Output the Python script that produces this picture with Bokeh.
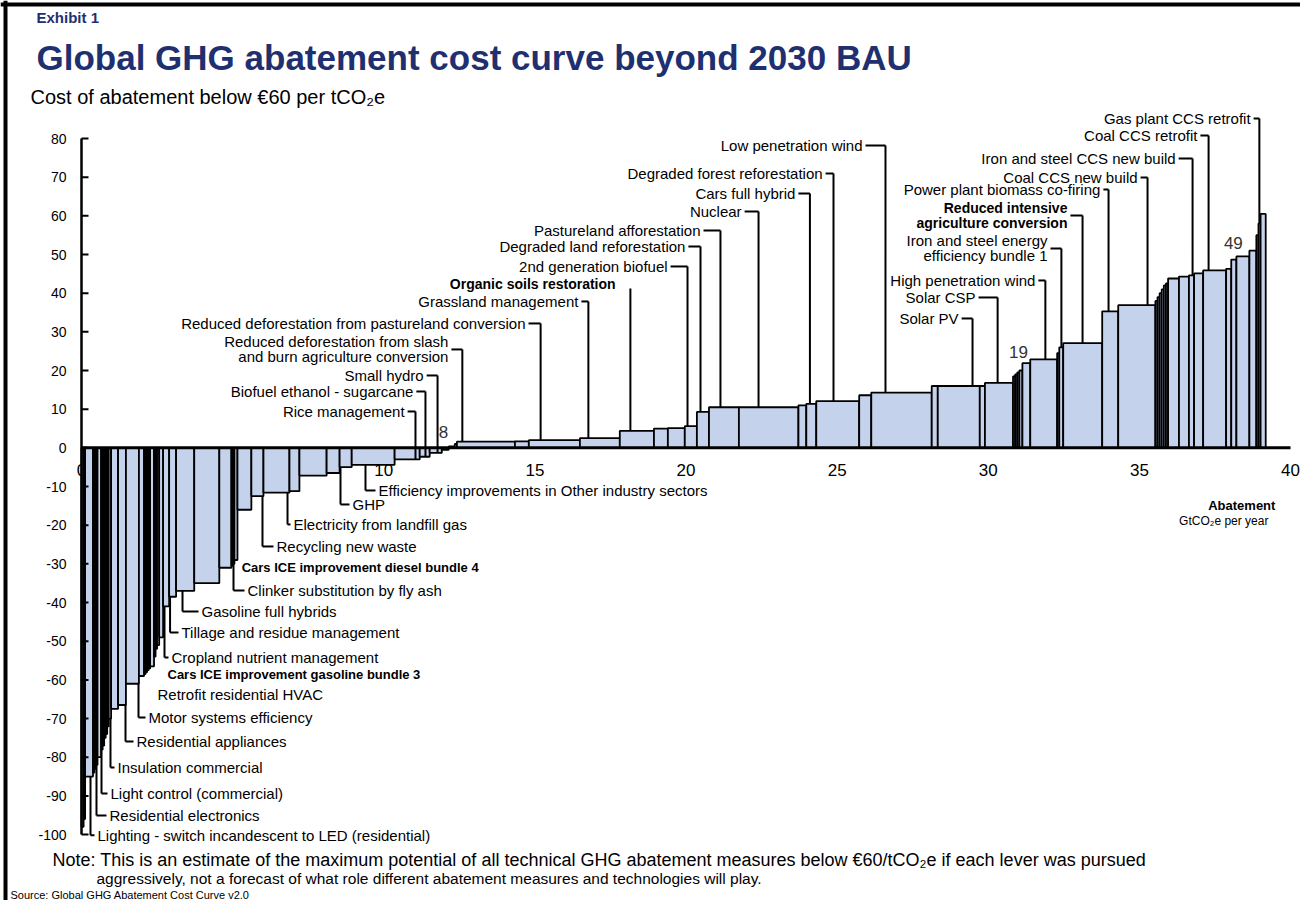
import numpy as np
from bokeh.plotting import figure
from bokeh.models import ColumnDataSource, Range1d, Span
from bokeh.core.properties import value
from bokeh.embed import file_html
from bokeh.resources import INLINE

# ------------------------------------------------------------------ data
# width of each abatement lever (GtCO2e per year) and its cost (EUR per tCO2e), in curve order
lever_width = [0.07, 0.05, 0.26, 0.05, 0.05, 0.05, 0.12, 0.05, 0.05, 0.05,
               0.05, 0.05, 0.08, 0.23, 0.26, 0.43, 0.17, 0.05, 0.05, 0.05,
               0.05, 0.13, 0.05, 0.05, 0.07, 0.13, 0.20, 0.23, 0.60, 0.83,
               0.40, 0.05, 0.05, 0.10, 0.46, 0.40, 0.86, 0.33, 0.90, 0.43,
               0.40, 1.42, 0.83, 0.33, 0.40, 0.23, 0.20, 0.07,
               1.92, 0.46, 1.69, 1.32, 1.13, 0.46, 0.56, 0.40, 0.40, 0.99,
               1.97, 0.26, 0.33, 1.42, 0.40, 2.00, 0.20, 1.39, 0.17, 0.93,
               0.07, 0.07, 0.07, 0.10, 0.26, 0.89, 0.07, 0.13, 1.29, 0.53,
               1.23, 0.07, 0.07, 0.07, 0.07, 0.07, 0.07, 0.36, 0.33, 0.17,
               0.30, 0.76, 0.17, 0.17, 0.43, 0.23, 0.07, 0.07, 0.17]
lever_cost = [-98, -96, -85, -84, -83, -82, -80, -78, -77, -75,
              -74, -72, -70, -67.5, -66.5, -61, -59, -58.5, -58, -57.5,
              -57, -56.5, -54, -52, -51, -49, -41, -38.5, -37, -35,
              -31, -30.5, -30, -29, -16, -12.5, -11.6, -11.2, -7.2, -6.5,
              -5, -4.4, -3, -2.3, -1.3, -0.5, 0.4, 1.0,
              1.6, 1.7, 2.0, 2.5, 4.4, 5.0, 5.1, 5.6, 9.3, 10.5,
              10.5, 11.0, 11.4, 12.1, 13.6, 14.3, 16.0, 16.0, 16.0, 16.8,
              18.5, 19.0, 19.5, 20.0, 21.9, 22.9, 24.5, 26.0, 27.1, 35.3,
              36.9, 38, 39, 40, 41, 42, 42.5, 43.8, 44.3, 44.6,
              45.1, 45.9, 46.3, 48.7, 49.5, 51, 55, 58, 60.5]

cost_ticks = list(range(-100, 90, 10))
abatement_ticks = [0, 5, 10, 15, 20, 25, 30, 35, 40]

# labels above the axis: text, right end of text, text y, abatement where the leader meets the curve
upper_names = ["Rice management", "Biofuel ethanol - sugarcane", "Small hydro",
               "Reduced deforestation from slash\nand burn agriculture conversion",
               "Reduced deforestation from pastureland conversion", "Grassland management",
               "Organic soils restoration", "2nd generation biofuel", "Degraded land reforestation",
               "Pastureland afforestation", "Nuclear", "Cars full hybrid",
               "Degraded forest reforestation", "Low penetration wind", "Solar PV", "Solar CSP",
               "High penetration wind", "Iron and steel energy\nefficiency bundle 1",
               "Reduced intensive\nagriculture conversion", "Power plant biomass co-firing",
               "Coal CCS new build", "Iron and steel CCS new build", "Coal CCS retrofit",
               "Gas plant CCS retrofit"]
upper_text_x = [10.69, 10.98, 11.32, 12.14, 14.69, 16.44, 17.67, 19.39, 19.98, 20.48, 21.84, 23.62,
                24.52, 25.84, 29.02, 29.58, 31.56, 31.96, 32.62, 33.71, 34.94, 36.20, 36.92, 38.68]
upper_text_y = [9.41, 14.58, 18.72, 25.45, 32.17, 37.86, 42.25, 46.91, 52.07, 56.22, 61.13, 65.79,
                70.96, 78.2, 33.46, 38.89, 43.29, 51.56, 60.1, 66.82, 69.92, 74.84, 80.79, 85.18]
upper_lever_x = [11.05, 11.38, 11.78, 12.6, 15.19, 16.77, 18.16, 20.05, 20.48, 21.14, 22.4, 24.1,
                 24.88, 26.6, 29.48, 30.31, 31.89, 32.42, 33.12, 33.98, 35.27, 36.76, 37.29, 38.97]

# labels below the axis: text, left start of text, text y, abatement of the lever (None = no leader)
lower_names = ["Lighting - switch incandescent to LED (residential)", "Residential electronics",
               "Light control (commercial)", "Insulation commercial", "Residential appliances",
               "Motor systems efficiency", "Retrofit residential HVAC",
               "Cars ICE improvement gasoline bundle 3", "Cropland nutrient management",
               "Tillage and residue management", "Gasoline full hybrids",
               "Clinker substitution by fly ash", "Cars ICE improvement diesel bundle 4",
               "Recycling new waste", "Electricity from landfill gas", "GHP",
               "Efficiency improvements in Other industry sectors"]
lower_text_x = [0.529, 0.926, 0.959, 1.191, 1.82, 2.217, 2.514, 2.845, 2.978, 3.309, 3.97,
                5.492, 5.3, 6.452, 7.014, 8.966, 9.826]
lower_text_y = [-100.2, -95.05, -89.36, -82.64, -75.92, -69.72, -63.77, -58.6, -54.2, -47.74,
                -42.31, -36.88, -30.93, -25.5, -19.81, -14.64, -11.02]
lower_lever_x = [0.298, 0.496, 0.662, 0.959, 1.456, 1.886, None, None, 2.746, 2.93, 3.342,
                 5.029, None, 5.988, 6.816, 8.569, 9.396]

count_labels = ["8", "19", "49"]
count_x = [11.98, 31.0, 38.11]
count_y = [3.98, 24.67, 52.86]

# ------------------------------------------------------------------ geometry
w = np.array(lever_width)
c = np.array(lever_cost, dtype=float)
right = np.cumsum(w)
left = right - w
bars = ColumnDataSource(dict(left=left, right=right,
                             top=np.maximum(c, 0), bottom=np.minimum(c, 0)))


def cost_at(x):
    i = int(np.searchsorted(right, x))
    return float(c[min(i, len(c) - 1)])


PXX, PXY = 30.225, 3.867          # pixels per unit
W, H = 1300, 900
x_start = -81 / PXX
x_end = x_start + W / PXX
y_end = 80 + 138 / PXY
y_start = y_end - H / PXY

FONT = "Liberation Sans"
NAVY = "#1f3070"
BAR_FILL = "#c5d2ec"
GAP = 3 / PXX
LH = 15 / PXY

p = figure(width=W, height=H, x_range=Range1d(x_start, x_end), y_range=Range1d(y_start, y_end),
           output_backend="svg", toolbar_location=None, tools="", title=None,
           x_axis_type=None, y_axis_type=None, min_border=0)
p.outline_line_color = None
p.background_fill_color = "white"
p.border_fill_color = "white"


def add_text(xs, ys, texts, size, align="left", bold=False, color="black"):
    src = ColumnDataSource(dict(x=list(xs), y=list(ys), text=list(texts)))
    p.text(x="x", y="y", text="text", source=src, text_font=value(FONT),
           text_font_size=value(f"{size}px"), text_align=align, text_baseline="middle",
           text_font_style="bold" if bold else "normal", text_color=color)


# x tick labels (drawn first, the curve covers some of them as in the original)
add_text(abatement_ticks, [-5.84] * len(abatement_ticks), [str(t) for t in abatement_ticks], 17,
         align="center")

# the cost curve
p.quad(left="left", right="right", top="top", bottom="bottom", source=bars,
       fill_color=BAR_FILL, line_color="black", line_width=1.8)

# axes
p.segment(x0=[0], y0=[cost_ticks[0]], x1=[0], y1=[cost_ticks[-1]], line_color="black", line_width=2.5)
p.segment(x0=[0] * len(cost_ticks), y0=cost_ticks, x1=[7 / PXX] * len(cost_ticks), y1=cost_ticks,
          line_color="black", line_width=2)
p.segment(x0=[abatement_ticks[0]], y0=[0], x1=[abatement_ticks[-1]], y1=[0], line_color="black",
          line_width=3)
add_text([-15 / PXX] * len(cost_ticks), cost_ticks, [str(t) for t in cost_ticks], 14, align="right")

# leaders
sx0, sy0, sx1, sy1 = [], [], [], []
bold_upper = {"Organic soils restoration", "Reduced intensive\nagriculture conversion"}
no_connector = {"Organic soils restoration"}
ux, uy, ut, bx, by, bt = [], [], [], [], [], []
for name, tx, ty, lx in zip(upper_names, upper_text_x, upper_text_y, upper_lever_x):
    lines = name.split("\n")
    n = len(lines)
    for j, line in enumerate(lines):
        yy = ty + ((n - 1) / 2 - j) * LH
        if name in bold_upper:
            bx.append(tx); by.append(yy); bt.append(line)
        else:
            ux.append(tx); uy.append(yy); ut.append(line)
    end = cost_at(lx)
    if name in no_connector:
        sx0.append(lx); sy0.append(ty - 4 / PXY); sx1.append(lx); sy1.append(end)
    else:
        sx0 += [tx + GAP, lx]; sy0 += [ty, ty]; sx1 += [lx, lx]; sy1 += [ty, end]

add_text(ux, uy, ut, 15, align="right")
add_text(bx, by, bt, 14, align="right", bold=True)

bold_lower = {"Cars ICE improvement gasoline bundle 3", "Cars ICE improvement diesel bundle 4"}
lx_n, ly_n, lt_n, lx_b, ly_b, lt_b = [], [], [], [], [], []
for name, tx, ty, lx in zip(lower_names, lower_text_x, lower_text_y, lower_lever_x):
    if name in bold_lower:
        lx_b.append(tx); ly_b.append(ty); lt_b.append(name)
    else:
        lx_n.append(tx); ly_n.append(ty); lt_n.append(name)
    if lx is not None:
        end = cost_at(lx)
        sx0 += [lx, lx]; sy0 += [end, ty]; sx1 += [lx, tx - GAP]; sy1 += [ty, ty]

add_text(lx_n, ly_n, lt_n, 15, align="left")
add_text(lx_b, ly_b, lt_b, 13, align="left", bold=True)
p.segment(x0=sx0, y0=sy0, x1=sx1, y1=sy1, line_color="black", line_width=2)

# lever counts
add_text(count_x, count_y, count_labels, 17, align="center", color="#333333")

# axis title
add_text([39.5], [-14.9], ["Abatement"], 13, align="right", bold=True)
add_text([39.27], [-19.03], ["GtCO₂e per year"], 12, align="right")

# headings
add_text([-1.489], [111.3], ["Exhibit 1"], 15, bold=True, color=NAVY)
add_text([-1.489], [100.96], ["Global GHG abatement cost curve beyond 2030 BAU"], 35, bold=True,
         color=NAVY)
add_text([-1.687], [90.61], ["Cost of abatement below €60 per tCO₂e"], 20)

# notes
add_text([-0.959], [-106.67],
         ["Note: This is an estimate of the maximum potential of all technical GHG abatement "
          "measures below  €60/tCO₂e if each lever was pursued"], 18)
add_text([0.496], [-111.32],
         ["aggressively, not a forecast of what role different abatement measures and "
          "technologies will play."], 15.5)
add_text([-2.349], [-115.6], ["Source: Global GHG Abatement Cost Curve v2.0"], 11)

# frame lines at top and left
p.add_layout(Span(location=x_start + 5 / PXX, dimension="height", line_color="black", line_width=4))
p.add_layout(Span(location=y_end - 4 / PXY, dimension="width", line_color="black", line_width=4))

open("out.html", "w").write(file_html(p, INLINE))
